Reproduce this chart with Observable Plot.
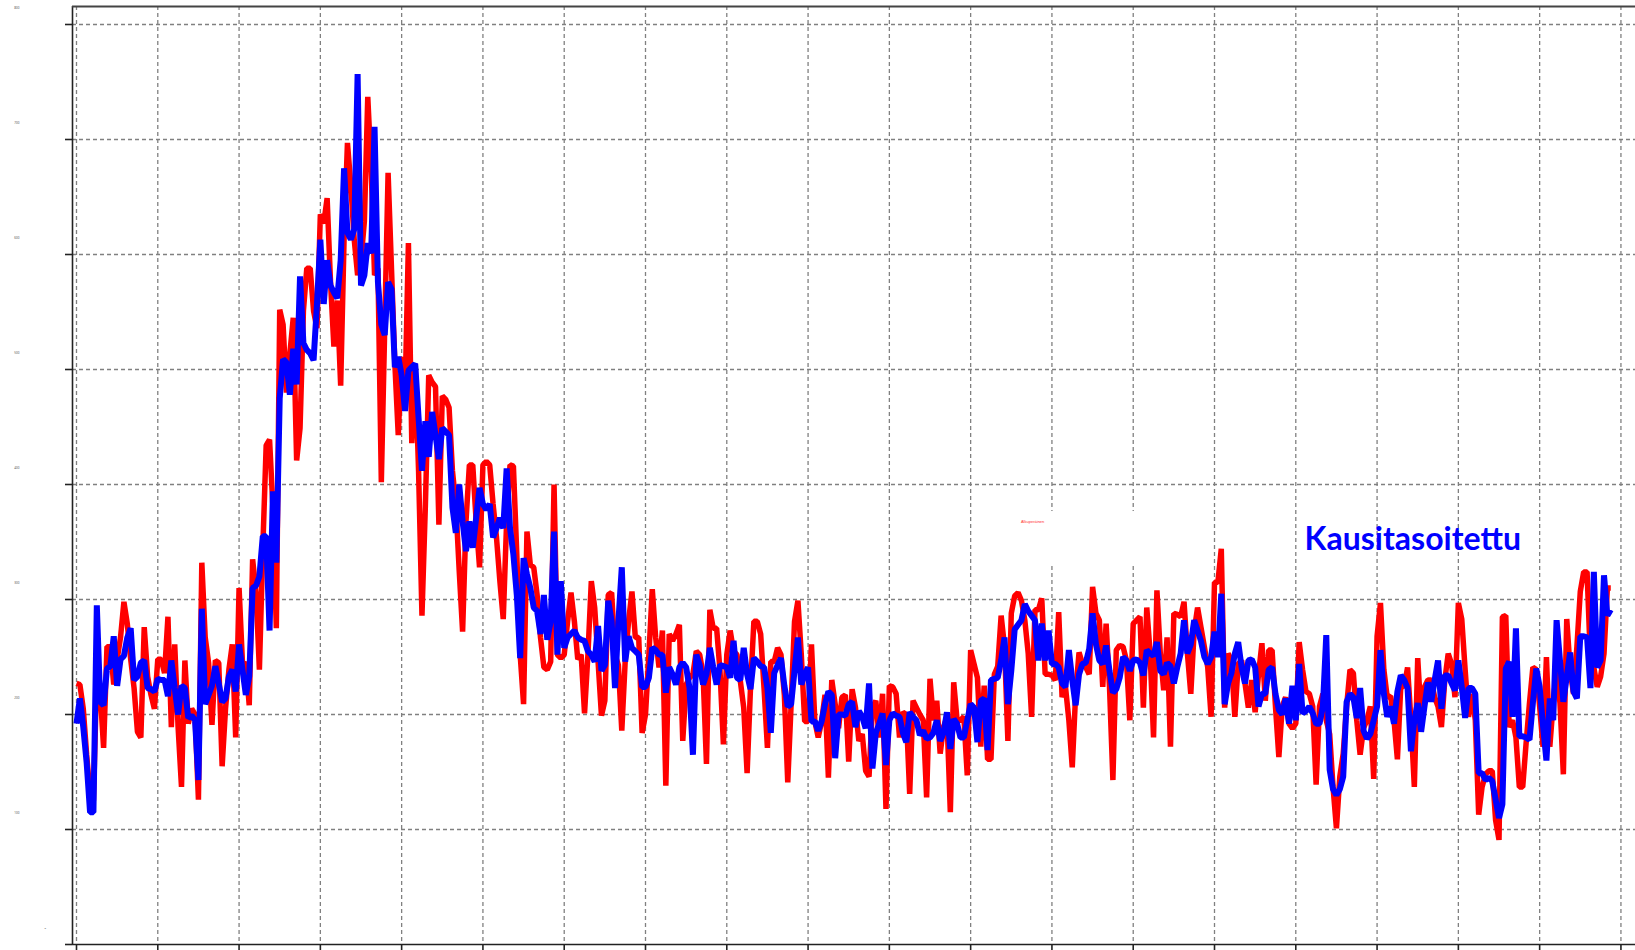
<!DOCTYPE html>
<html>
<head>
<meta charset="utf-8">
<script src="https://cdn.jsdelivr.net/npm/d3@7"></script>
<script src="https://cdn.jsdelivr.net/npm/@observablehq/plot@0.6"></script>
<style>
  html, body { margin: 0; padding: 0; background: #fff; overflow: hidden; }
  #chart svg { display: block; }
</style>
</head>
<body>
<div id="chart"></div>
<script>
// Monthly series, month index 0 = January 1986
const startYear = 1986;

// Red: original series (Alkuperäinen)
const original = [
  227,226,205,165,130,125,236,220,171,259,
  259,226,248,267,298,279,248,223,185,180,
  276,233,217,205,248,248,236,285,189,261,
  189,137,247,192,205,200,126,332,267,245,
  191,247,245,155,205,239,261,180,310,245,
  244,208,335,307,239,344,434,439,380,275,
  552,539,480,514,545,421,449,551,588,588,
  551,536,635,627,649,576,520,560,486,613,
  697,660,613,582,595,629,737,675,582,588,
  402,536,671,588,505,443,511,477,610,436,
  505,412,286,381,495,489,485,365,477,474,
  467,412,383,325,272,368,417,417,368,328,
  417,420,417,383,354,316,283,368,417,416,
  339,252,209,359,330,328,304,267,241,239,
  246,400,252,249,252,281,306,281,248,252,
  201,252,316,293,246,199,212,304,306,252,
  243,186,246,281,307,267,267,184,200,252,
  309,267,241,273,138,270,264,270,278,177,
  226,232,235,255,252,235,157,291,275,275,
  238,174,252,273,255,252,229,206,149,223,
  281,281,270,223,171,246,246,258,252,217,
  141,209,281,299,252,194,194,261,194,180,
  194,217,145,230,209,188,215,217,159,222,
  206,177,183,151,146,206,212,180,218,118,
  225,224,218,180,202,200,131,212,206,200,
  195,128,231,195,212,166,189,198,115,228,
  195,195,198,147,256,244,232,172,225,161,
  161,235,242,286,259,177,288,303,306,299,
  282,253,198,291,291,301,235,235,234,230,
  289,215,224,195,154,218,254,244,241,235,
  311,288,282,224,279,224,143,256,260,259,
  247,195,279,282,285,206,293,253,180,308,
  253,221,267,172,288,287,285,298,253,218,
  273,293,276,259,241,198,315,315,344,206,
  253,247,198,244,247,227,206,230,202,235,
  262,212,256,256,207,163,207,215,192,188,
  192,263,239,220,218,207,139,207,218,195,
  183,137,101,146,166,207,239,236,195,165,
  188,195,207,144,268,297,239,215,216,195,
  161,225,224,241,195,137,249,198,224,230,
  230,215,207,189,230,253,244,215,297,283,
  239,198,218,195,113,137,148,151,151,108,
  91,285,286,189,195,180,137,137,175,210,
  241,239,207,172,250,172,210,239,210,148,
  283,239,218,259,307,324,324,247,241,224,
  233,253,310,310
];

// Blue: seasonally adjusted series (Kausitasoitettu)
const adjusted = [
  192,214,189,158,115,115,295,211,208,240,
  242,268,225,248,251,267,275,230,233,245,
  247,223,222,220,231,230,230,216,247,223,
  200,225,223,197,199,195,143,292,209,217,
  225,242,227,211,214,233,239,220,261,239,
  217,233,310,312,320,355,355,273,394,332,
  475,509,506,478,518,487,581,523,517,514,
  508,557,613,557,595,573,567,562,595,675,
  619,613,622,757,573,582,610,601,711,576,
  539,530,576,570,502,511,495,464,499,502,
  505,458,412,455,424,463,443,422,449,446,
  443,380,358,400,368,342,368,345,371,397,
  383,378,383,354,362,371,362,414,362,339,
  304,249,336,322,310,293,290,270,304,265,
  281,359,252,316,258,267,270,273,267,265,
  264,255,252,246,277,238,243,299,281,223,
  281,328,246,268,258,255,252,224,224,232,
  258,256,252,252,219,241,235,226,241,245,
  241,223,165,252,243,226,235,258,241,226,
  243,242,241,232,264,232,230,258,235,222,
  249,246,242,241,223,184,236,243,249,225,
  207,209,238,267,226,235,241,194,194,186,
  194,209,220,217,162,200,200,199,209,211,
  189,203,198,188,227,153,184,192,201,156,
  195,201,199,198,184,176,202,198,195,182,
  186,179,180,184,195,177,184,202,170,196,
  192,180,180,195,209,206,176,212,214,169,
  230,231,232,247,267,209,238,274,278,282,
  296,290,286,282,247,279,247,273,244,244,
  241,227,224,256,230,208,235,244,245,257,
  288,261,247,244,260,238,219,222,232,250,
  247,238,247,248,245,234,256,253,251,263,
  238,235,245,242,227,241,253,282,253,261,
  282,273,264,250,244,250,272,250,305,209,
  227,236,253,263,241,227,247,248,241,207,
  218,218,239,241,218,204,200,214,192,225,
  195,244,201,203,207,201,192,192,207,269,
  152,135,130,135,146,211,218,215,197,223,
  186,179,183,195,207,256,218,198,207,192,
  220,234,230,223,168,195,210,185,207,228,
  211,230,247,205,234,234,227,221,247,224,
  197,223,223,218,149,149,143,145,142,126,
  110,122,240,246,198,275,181,181,180,178,
  210,240,224,190,160,214,195,282,247,211,
  233,254,220,214,268,268,267,223,324,241,
  247,321,286,291
];

// Tick values
const yTicks = [0, 100, 200, 300, 400, 500, 600, 700, 800];
const xTicks = d3.range(0, 457, 24); // every two years, months since Jan 1986

// Labels
const seriesLabels = ["Alkuperäinen", "Kausitasoitettu"];

// Scale extents
const xDomain = [-1.18, 460.3];
const yDomain = [0, 815.65];

const redRows = original.map((v, i) => ({month: i, value: v}));
const blueRows = adjusted.map((v, i) => ({month: i, value: v}));

const legendBox = [{x1: 274.3, x2: 317.1, y1: 329.6, y2: 376.5}];
const redLabel = [{month: 282.3, value: 367.8, text: seriesLabels[0]}];
const blueLabel = [{month: 362.6, value: 352, text: seriesLabels[1]}];

const gridStyle = {stroke: "#808080", strokeWidth: 1.3, strokeDasharray: "4,3"};

const chart = Plot.plot({
  width: 1635,
  height: 950,
  marginLeft: 72,
  marginRight: 0,
  marginTop: 6,
  marginBottom: 6,
  style: {background: "#fff", overflow: "visible"},
  x: {domain: xDomain, axis: null},
  y: {domain: yDomain, axis: null},
  marks: [
    Plot.ruleY(yTicks.filter(d => d > 0), gridStyle),
    Plot.ruleX(xTicks, gridStyle),
    Plot.rect(legendBox, {x1: "x1", x2: "x2", y1: "y1", y2: "y2", fill: "#fff"}),
    Plot.text(redLabel, {x: "month", y: "value", text: "text", fill: "#ff3030", fontSize: 4, fontFamily: "Liberation Sans", textAnchor: "middle"}),
    Plot.line(redRows, {x: "month", y: "value", stroke: "#ff0000", strokeWidth: 5.5, strokeLinejoin: "miter", strokeLinecap: "butt"}),
    Plot.line(blueRows, {x: "month", y: "value", stroke: "#0000ff", strokeWidth: 6, strokeLinejoin: "miter", strokeLinecap: "butt"}),
    Plot.text(blueLabel, {x: "month", y: "value", text: "text", fill: "#0000ff", fontSize: 32, fontWeight: "bold", fontFamily: "Lato", textAnchor: "start"}),
    Plot.ruleX([xDomain[0]], {stroke: "#222", strokeWidth: 1.6}),
    Plot.ruleY([yDomain[1]], {stroke: "#444", strokeWidth: 2}),
    Plot.ruleY([0], {stroke: "#222", strokeWidth: 1.6}),
    // y tick marks (at the gridlines)
    Plot.axisY(yTicks, {tickSize: 7, tickFormat: () => "", stroke: "#222", strokeWidth: 1.6, label: null}),
    // y tick labels (tiny, set above each gridline)
    Plot.axisY(yTicks.filter(d => d > 0), {tickSize: 0, tickPadding: 53, dy: -16, fontSize: 3, fill: "#555", label: null}),
    Plot.axisX(xTicks, {tickSize: 6, tickFormat: () => "", stroke: "#222", strokeWidth: 1.6, label: null}),
    Plot.text(["0"], {frameAnchor: "bottom-left", dx: -28, dy: -16, text: d => d, fontSize: 2.5, fill: "#555"})
  ]
});

document.getElementById("chart").appendChild(chart);
</script>
</body>
</html>
